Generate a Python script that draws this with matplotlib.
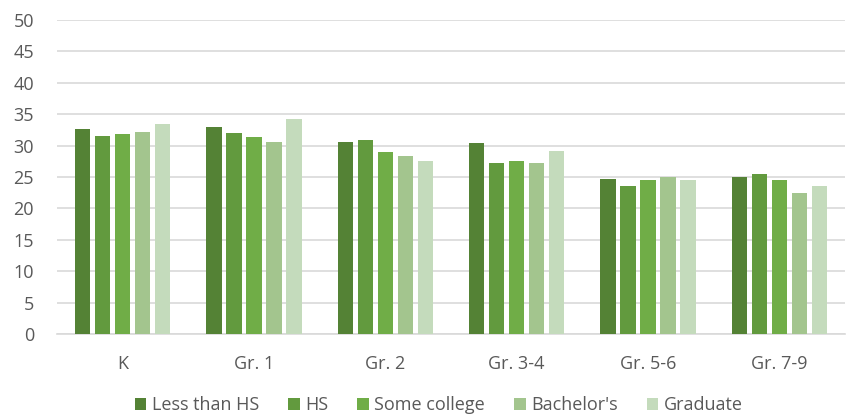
import numpy as np
import matplotlib
matplotlib.use("Agg")
import matplotlib.pyplot as plt

categories = ["K", "Gr. 1", "Gr. 2", "Gr. 3-4", "Gr. 5-6", "Gr. 7-9"]
series = ["Less than HS", "HS", "Some college", "Bachelor's", "Graduate"]
less_than_hs = [32.6, 32.9, 30.6, 30.4, 24.7, 25.0]
hs = [31.5, 32.0, 30.9, 27.3, 23.6, 25.5]
some_college = [31.8, 31.3, 29.0, 27.5, 24.5, 24.5]
bachelors = [32.1, 30.5, 28.4, 27.3, 25.0, 22.5]
graduate = [33.5, 34.3, 27.5, 29.2, 24.5, 23.6]
values = [less_than_hs, hs, some_college, bachelors, graduate]
colors = ["#548235", "#629a3e", "#70ad47", "#a3c58e", "#c4dbbc"]

plt.rcParams['font.family'] = ['Open Sans', 'DejaVu Sans']
fig = plt.figure(figsize=(8.52, 4.16), dpi=100)
ax = fig.add_axes([57/852, 1-334/416, (845-57)/852, (334-20)/416])

x = np.arange(len(categories))
step = 0.152
for i, (name, vals) in enumerate(zip(series, values)):
    ax.bar(x + (i - 2) * step, vals, 0.118, color=colors[i], lw=0,
           label=name, zorder=3)

ax.set_xlim(-0.5, len(categories) - 0.5)
ax.set_ylim(0, 50)
ax.set_yticks(range(0, 51, 5))
ax.yaxis.grid(True, color='#d9d9d9', lw=1.2, zorder=0)
ax.set_xticks(x)
ax.set_xticklabels(categories)
ax.tick_params(axis='both', length=0, labelsize=13, colors='#595959')
ax.tick_params(axis='x', pad=15)
ax.tick_params(axis='y', pad=16.5)
for s in ['top', 'right', 'left']:
    ax.spines[s].set_visible(False)
ax.spines['bottom'].set_color('#d9d9d9')
ax.spines['bottom'].set_linewidth(1.2)

leg = fig.legend(loc='center', bbox_to_anchor=(0.515, 1-405/416), ncol=5, frameon=False,
                 fontsize=13, handlelength=0.65, handleheight=0.65, handletextpad=0.3,
                 columnspacing=1.6, labelcolor='#595959')

fig.savefig('out.png', dpi=100)
